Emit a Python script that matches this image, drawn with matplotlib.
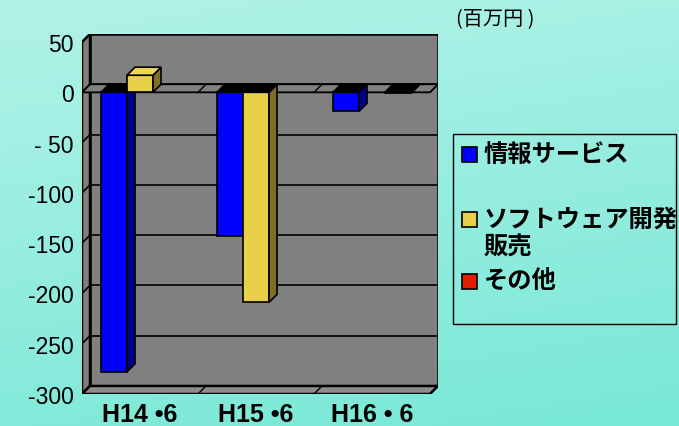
import numpy as np
import matplotlib
matplotlib.use("Agg")
import matplotlib.pyplot as plt
from matplotlib.patches import Polygon, Rectangle

# ---- data ----
categories = ["H14 •6", "H15 •6", "H16 • 6"]
series_names = ["情報サービス", "ソフトウェア開発", "その他"]
info_service = [-278, -143, -19]
software = [17, -209, 0]
other = [0, 0, -1]
yticks = [50, 0, -50, -100, -150, -200, -250, -300]
ytick_labels = ["50", "0", "- 50", "-100", "-150", "-200", "-250", "-300"]
unit_label = "(百万円 )"

W, H = 679, 427
fig = plt.figure(figsize=(W / 100, H / 100), dpi=100)

# background gradient
bg = fig.add_axes([0, 0, 1, 1], zorder=-10)
yy, xx = np.mgrid[0:1:200j, 0:1:300j]
top = np.array([0.70, 0.95, 0.91])
bot = np.array([0.47, 0.91, 0.84])
t = (yy * 0.8 + xx * 0.2)[..., None]
img = top * (1 - t) + bot * t
bg.imshow(img, aspect="auto", extent=[0, 1, 0, 1], origin="upper")
bg.set_axis_off()

# 3D depth offsets (in data units)
DX = 8 / 116
DY = 8.0
YMIN, YMAX = -300, 50

ax = fig.add_axes([82 / W, (H - 395) / H, (438 - 82) / W, (395 - 35) / H])
ax.set_xlim(-0.5, 2.5 + DX)
ax.set_ylim(YMIN, YMAX + DY)
for s in ax.spines.values():
    s.set_visible(False)
ax.patch.set_alpha(0)

GRAY = "#808080"
FLOOR = "#8c8c8c"
LWF = 1.8

# back wall
ax.add_patch(Rectangle((-0.5 + DX, YMIN + DY), 3, YMAX - YMIN, facecolor=GRAY,
                       edgecolor="black", lw=LWF, zorder=1))
# left wall
ax.add_patch(Polygon([(-0.5, YMIN), (-0.5 + DX, YMIN + DY), (-0.5 + DX, YMAX + DY), (-0.5, YMAX)],
                     closed=True, facecolor=GRAY, edgecolor="black", lw=LWF, zorder=1))
# floor
ax.add_patch(Polygon([(-0.5, YMIN), (2.5, YMIN), (2.5 + DX, YMIN + DY), (-0.5 + DX, YMIN + DY)],
                     closed=True, facecolor=FLOOR, edgecolor="black", lw=LWF, zorder=2))
for b in [0.5, 1.5]:
    ax.plot([b, b + DX], [YMIN, YMIN + DY], color="black", lw=1.0, zorder=2)

# gridlines on back wall and left wall
for v in yticks:
    if v not in (YMIN, YMAX):
        ax.plot([-0.5 + DX, 2.5 + DX], [v + DY, v + DY], color="black", lw=1.2, zorder=1.5)
    ax.plot([-0.5, -0.5 + DX], [v, v + DY], color="black", lw=1.2, zorder=1.5)

# zero plane
ax.add_patch(Polygon([(-0.5, 0), (2.5, 0), (2.5 + DX, DY), (-0.5 + DX, DY)],
                     closed=True, facecolor=GRAY, edgecolor="black", lw=1.3, zorder=2))
for b in [0.5, 1.5]:
    ax.plot([b, b + DX], [0, DY], color="black", lw=1.0, zorder=2)

# bars
BW = 26 / 116
series = [info_service, software, other]
face_c = ["#0000ff", "#e8d048", "#e02000"]
side_c = ["#00008c", "#7f6f26", "#801000"]
top_c = ["#0000ff", "#ecd655", "#e02000"]

z = 3
for i in range(len(categories)):
    for k, vals in enumerate(series):
        v = vals[i]
        if v == 0:
            continue
        x0 = i - 1.5 * BW + k * BW
        lo, hi = min(0, v), max(0, v)
        ax.add_patch(Rectangle((x0, lo), BW, hi - lo, facecolor=face_c[k],
                               edgecolor="black", lw=1.2, zorder=z))
        ax.add_patch(Polygon([(x0 + BW, lo), (x0 + BW + DX, lo + DY), (x0 + BW + DX, hi + DY), (x0 + BW, hi)],
                             closed=True, facecolor=side_c[k], edgecolor="black", lw=1.2, zorder=z))
        tc = top_c[k] if v > 0 else "black"
        ax.add_patch(Polygon([(x0, hi), (x0 + BW, hi), (x0 + BW + DX, hi + DY), (x0 + DX, hi + DY)],
                             closed=True, facecolor=tc, edgecolor="black", lw=1.2, zorder=z))
        z += 0.1

# axes ticks
ax.set_yticks(yticks)
ax.set_yticklabels(ytick_labels, fontsize=16.5, family=["Liberation Sans", "DejaVu Sans"])
ax.set_xticks(range(len(categories)))
ax.set_xticklabels(categories, fontsize=18, fontweight="bold",
                   family=["Liberation Sans", "DejaVu Sans"])
ax.tick_params(axis="y", length=0, pad=6)
ax.tick_params(axis="x", length=0, pad=6)

# unit label
fig.text(456 / W, 1 - 20 / H, unit_label, fontsize=14.5, va="center", ha="left",
         family=["Noto Sans CJK JP", "DejaVu Sans"])

# legend (manual)
fig.patches.append(Rectangle((453 / W, (H - 325) / H), 223 / W, 190 / H, transform=fig.transFigure,
                             facecolor="none", edgecolor="black", lw=1.0))
leg_rows = [155, 220, 282]
for k, (name, yc) in enumerate(zip(series_names, leg_rows)):
    fig.patches.append(Rectangle((462 / W, (H - yc - 7.5) / H), 15 / W, 15 / H, transform=fig.transFigure,
                                 facecolor=face_c[k], edgecolor="black", lw=1.2))
    fig.text(484 / W, 1 - yc / H, name, fontsize=17.5, fontweight="bold", va="center", ha="left",
             family=["Noto Sans CJK JP", "DejaVu Sans"])
fig.text(484 / W, 1 - 248 / H, "販売", fontsize=17.5, fontweight="bold", va="center", ha="left",
         family=["Noto Sans CJK JP", "DejaVu Sans"])

fig.savefig("out.png", dpi=100)
